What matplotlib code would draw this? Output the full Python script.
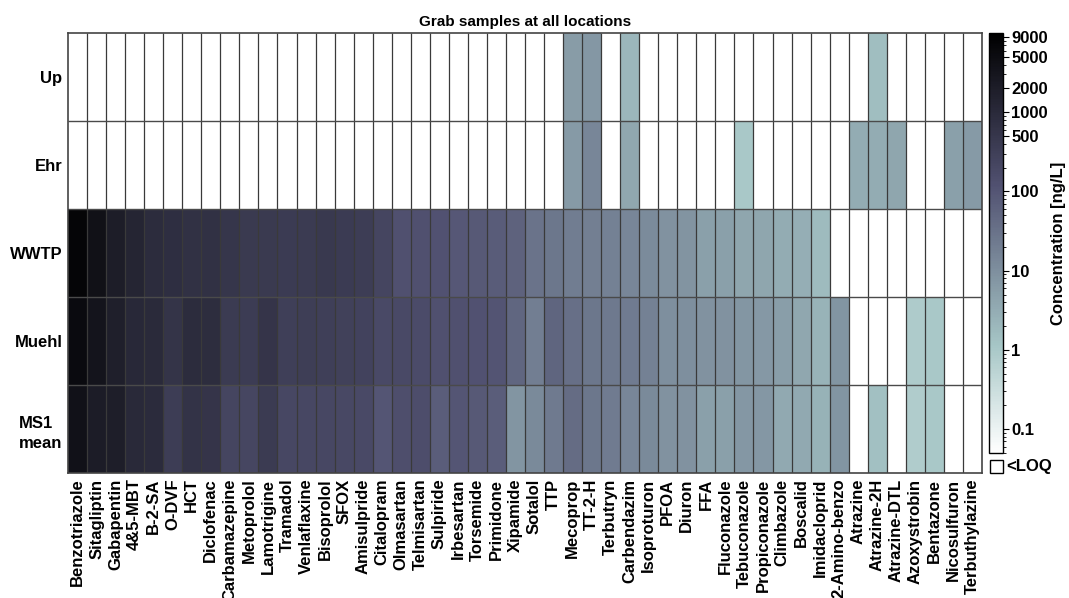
import numpy as np
import matplotlib
matplotlib.use("Agg")
import matplotlib.pyplot as plt
from matplotlib.colors import LogNorm
from matplotlib.patches import Rectangle

plt.rcParams['font.family'] = ['Liberation Sans', 'DejaVu Sans']
plt.rcParams['font.weight'] = 'bold'

# === data ===
compounds = ['Benzotriazole', 'Sitagliptin', 'Gabapentin', '4&5-MBT', 'B-2-SA', 'O-DVF', 'HCT',
             'Diclofenac', 'Carbamazepine', 'Metoprolol', 'Lamotrigine', 'Tramadol', 'Venlaflaxine',
             'Bisoprolol', 'SFOX', 'Amisulpride', 'Citalopram', 'Olmasartan', 'Telmisartan',
             'Sulpiride', 'Irbesartan', 'Torsemide', 'Primidone', 'Xipamide', 'Sotalol', 'TTP',
             'Mecoprop', 'TT-2-H', 'Terbutryn', 'Carbendazim', 'Isoproturon', 'PFOA', 'Diuron',
             'FFA', 'Fluconazole', 'Tebuconazole', 'Propiconazole', 'Climbazole', 'Boscalid',
             'Imidacloprid', '2-Amino-benzo', 'Atrazine', 'Atrazine-2H', 'Atrazine-DTL',
             'Azoxystrobin', 'Bentazone', 'Nicosulfuron', 'Terbuthylazine']
sites = ['Up', 'Ehr', 'WWTP', 'Muehl', 'MS1\nmean']

n = np.nan  # <LOQ
up = [n, n, n, n, n, n, n, n, n, n, n, n, n, n, n, n, n, n, n, n, n, n, n, n,
      n, n, 5.9, 7.3, n, 2.1, n, n, n, n, n, n, n, n, n, n, n, n, 1.6, n, n, n, n, n]
ehr = [n, n, n, n, n, n, n, n, n, n, n, n, n, n, n, n, n, n, n, n, n, n, n, n,
       n, n, 6.6, 14, n, 4.0, n, n, n, n, n, 1.05, n, n, n, n, n, 3.3, 3.3, 4.2, n, n, 5.3, 6.6]
wwtp = [7200, 3950, 2040, 1320, 900, 770, 680, 680, 520, 410, 410, 375, 400, 430, 375, 350,
        230, 125, 125, 115, 91, 85, 77, 60,
        30, 26, 21, 18.5, 17.5, 14, 12, 9, 8.6, 5.3, 5.3, 4.2, 4.2, 3.2, 2.9, 1.75,
        n, n, n, n, n, n, n, n]
muehl = [5500, 3200, 1800, 1100, 1000, 600, 900, 850, 400, 370, 550, 320, 330, 320, 280, 260,
         180, 175, 165, 125, 130, 115, 105, 52,
         19.5, 55, 36, 27, 24, 22, 17.5, 10, 10, 9, 9, 7.7, 6.9, 5.6, 4.0, 2.45,
         8, n, n, n, 0.85, 1.05, n, n]
ms1 = [3700, 2100, 1950, 1050, 950, 340, 610, 560, 230, 215, 400, 210, 205, 205, 195, 180,
       101, 140, 145, 73, 100, 85, 73, 8,
       12.6, 23, 40, 27, 22, 14.5, 12.6, 9, 9, 5.3, 5.3, 7.3, 7.3, 3.5, 3.6, 2.6,
       8, n, 1.42, n, 0.8, 1.05, n, n]

cb_ticks = [0.1, 1, 10, 100, 500, 1000, 2000, 5000, 9000]

# === figure ===
data = np.ma.masked_invalid(np.array([up, ehr, wwtp, muehl, ms1], dtype=float))
nrow, ncol = data.shape

fig = plt.figure(figsize=(10.69, 5.98), dpi=100)
ax = fig.add_axes([68 / 1069, 1 - 473 / 598, 914 / 1069, 440 / 598])

cmap = plt.get_cmap('bone_r').copy()
cmap.set_bad('white')
norm = LogNorm(vmin=0.05, vmax=10000)
mesh = ax.pcolormesh(np.arange(ncol + 1), np.arange(nrow + 1), data, cmap=cmap, norm=norm)

# cell borders
ax.vlines(np.arange(1, ncol), 0, nrow, colors='#3a3a3a', linewidth=0.9)
ax.hlines(np.arange(1, nrow), 0, ncol, colors='#4a4a4a', linewidth=1.0)
ax.set_xlim(0, ncol)
ax.set_ylim(nrow, 0)
for s in ax.spines.values():
    s.set_color('#444444')
    s.set_linewidth(1.2)

ax.set_xticks(np.arange(ncol) + 0.5)
ax.set_xticklabels(compounds, rotation=90, fontsize=12, fontweight='bold')
ax.set_yticks(np.arange(nrow) + 0.5)
ax.set_yticklabels(sites, fontsize=12, fontweight='bold', multialignment='left', linespacing=1.45)
ax.tick_params(length=0, pad=4)
ax.set_title('Grab samples at all locations', fontsize=11, fontweight='bold', pad=5)

# --- colorbar ---
cax = fig.add_axes([989 / 1069, 1 - 453 / 598, 14 / 1069, 420 / 598])
cb = fig.colorbar(mesh, cax=cax)
cb.set_ticks(cb_ticks)
cb.set_ticklabels([f'{t:g}' for t in cb_ticks])
cb.ax.tick_params(labelsize=12, length=4, width=0.8, pad=2)
cb.ax.tick_params(which='minor', length=2, width=0.6)
cb.outline.set_linewidth(1.0)
cb.set_label('Concentration [ng/L]', fontsize=12, fontweight='bold', labelpad=2)
for lab in cb.ax.get_yticklabels():
    lab.set_fontweight('bold')

# --- <LOQ box ---
fig.add_artist(Rectangle((990 / 1069, 1 - 473 / 598), 13 / 1069, 13 / 598,
                         transform=fig.transFigure, facecolor='white',
                         edgecolor='black', linewidth=1.0))
fig.text(1006 / 1069, 1 - 466 / 598, '<LOQ', fontsize=12, fontweight='bold', va='center')

fig.savefig('out.png', dpi=100)
